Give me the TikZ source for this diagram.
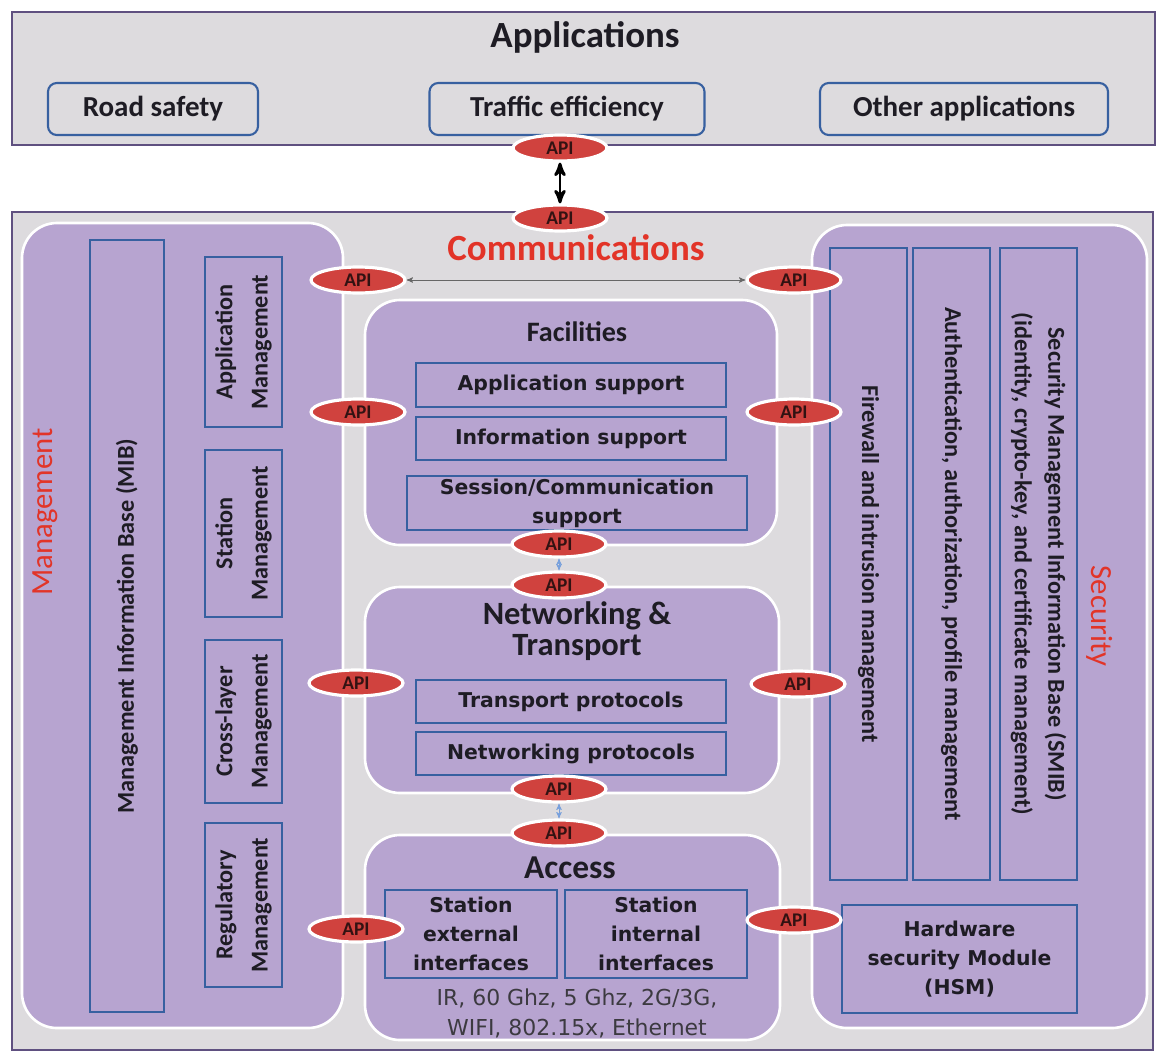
\documentclass[tikz,border=0pt]{standalone}
\usepackage{fontspec}
\setmainfont{Carlito}
\newfontfamily\widefont{DejaVu Sans}
\usetikzlibrary{shapes.geometric, arrows}

\definecolor{frame}{RGB}{95,80,128}
\definecolor{bggray}{RGB}{221,219,222}
\definecolor{lav}{RGB}{183,164,208}
\definecolor{boxblue}{RGB}{55,96,160}
\definecolor{apired}{RGB}{208,66,62}
\definecolor{apitext}{RGB}{50,18,18}
\definecolor{titlered}{RGB}{226,52,40}
\definecolor{darktext}{RGB}{30,28,36}
\definecolor{phytext}{RGB}{60,58,64}
\definecolor{linkblue}{RGB}{120,160,220}

\begin{document}
\begin{tikzpicture}[x=0.02cm, y=-0.02cm, >=stealth', semithick,
     sz/.style 2 args={minimum width=#1*0.02cm, minimum height=#2*0.02cm, inner sep=0pt},
     layer/.style={draw=frame, line width=1.6pt, fill=bggray},
     panel/.style={draw=white, line width=1.5pt, fill=lav, rounded corners=0.7cm},
     appbox/.style={draw=boxblue, line width=1.2pt, fill=bggray, rounded corners=5pt, text=darktext,
       font=\bfseries\fontsize{16.5}{19}\selectfont},
     blk/.style={draw=boxblue, line width=1.1pt, fill=lav, align=center, text=darktext,
       font=\bfseries\fontsize{13.8}{20}\selectfont},
     wideblk/.style={blk, font=\widefont\bfseries\fontsize{11.6}{16.5}\selectfont},
     ttl/.style={align=center, text=darktext, font=\bfseries\fontsize{16}{18}\selectfont},
     redttl/.style={text=titlered, font=\fontsize{17.5}{20}\selectfont},
     api/.style={ellipse, fill=apired, draw=white, line width=1.8pt, sz={94}{26}, text=apitext,
       font=\bfseries\fontsize{11}{12}\selectfont},
  ]
  \path[use as bounding box] (0,0) rectangle (1158,1055);

  % applications layer
  \node[layer, sz={1143}{133}] (apps) at (583.5,78.5) {};
  \node[ttl, font=\bfseries\fontsize{21}{24}\selectfont] (appsT) at (585,37) {Applications};
  \node[appbox, sz={210}{52}] (road) at (153,109) {Road safety};
  \node[appbox, sz={275}{52}] (traffic) at (567,109) {Traffic efficiency};
  \node[appbox, sz={288}{52}] (other) at (964,109) {Other applications};

  % communications layer and side panels
  \node[layer, sz={1141}{838}] (comm) at (582.5,631) {};
  \node[panel, sz={321}{805}] (mgmt) at (182.5,625.5) {};
  \node[panel, sz={335}{803}] (sec) at (979.5,626.5) {};
  \node[panel, sz={412}{245}] (fac) at (571,422.5) {};
  \node[panel, sz={414}{206}] (net) at (572,690) {};
  \node[panel, sz={415}{205}] (acc) at (572.5,937.5) {};

  \node[redttl, font=\bfseries\fontsize{21}{23}\selectfont] (commT) at (576,248) {Communications};
  \node[redttl, rotate=90] (mgmtT) at (45,512) {Management};
  \node[redttl, rotate=-90] (secT) at (1100,616) {Security};

  % management
  \node[blk, rotate=90, sz={772}{74}] (mib) at (127,626) {Management Information Base (MIB)};
  \node[blk, rotate=90, sz={170}{77}] (appM) at (243.5,342) {Application\\Management};
  \node[blk, rotate=90, sz={167}{77}] (staM) at (243.5,533.5) {Station\\Management};
  \node[blk, rotate=90, sz={163}{77}] (crossM) at (243.5,721.5) {Cross-layer\\Management};
  \node[blk, rotate=90, sz={164}{77}] (regM) at (243.5,905) {Regulatory\\Management};

  % security
  \node[blk, rotate=-90, sz={632}{77}] (fw) at (868.5,564) {Firewall and intrusion management};
  \node[blk, rotate=-90, sz={632}{77}] (auth) at (951.5,564) {Authentication, authorization, profile management};
  \node[blk, rotate=-90, sz={632}{77}, font=\bfseries\fontsize{13.8}{19}\selectfont] (smib) at (1038.5,564)
    {Security Management Information Base (SMIB)\\(identity, crypto-key, and certificate management)};
  \node[wideblk, sz={235}{108}] (hsm) at (959.5,959) {Hardware\\security Module\\(HSM)};

  % facilities
  \node[ttl] (facT) at (577,332) {Facilities};
  \node[wideblk, sz={310}{44}] (appS) at (571,385) {Application support};
  \node[wideblk, sz={310}{43}] (infoS) at (571,438.5) {Information support};
  \node[wideblk, sz={340}{54}] (sessS) at (577,503) {Session/Communication\\support};

  % networking and transport
  \node[ttl, font=\bfseries\fontsize{18.5}{18}\selectfont] (netT) at (577,631) {Networking \&\\Transport};
  \node[wideblk, sz={310}{43}] (trP) at (571,701.5) {Transport protocols};
  \node[wideblk, sz={310}{43}] (nwP) at (571,753.5) {Networking protocols};

  % access
  \node[ttl, font=\bfseries\fontsize{19}{21}\selectfont] (accT) at (570,868) {Access};
  \node[wideblk, sz={172}{88}] (extI) at (471,934) {Station\\external\\interfaces};
  \node[wideblk, sz={182}{88}] (intI) at (656,934) {Station\\internal\\interfaces};
  \node[align=center, text=phytext, font=\widefont\fontsize{12.5}{17}\selectfont] (phy) at (577,1013)
    {IR, 60 Ghz, 5 Ghz, 2G/3G,\\WIFI, 802.15x, Ethernet};

  % API
  \node[api] (apiA) at (560,148) {API};
  \node[api] (apiC) at (560,218) {API};
  \node[api] (mApi1) at (358,280) {API};
  \node[api] (mApi2) at (358,412) {API};
  \node[api] (mApi3) at (356,683) {API};
  \node[api] (mApi4) at (356,929) {API};
  \node[api] (sApi1) at (794,280) {API};
  \node[api] (sApi2) at (794,412) {API};
  \node[api] (sApi3) at (798,684) {API};
  \node[api] (sApi4) at (794,920) {API};
  \node[api] (fApi) at (559,544) {API};
  \node[api] (nApiN) at (559,585) {API};
  \node[api] (nApiS) at (559,789) {API};
  \node[api] (aApi) at (559,833) {API};

  \draw[<->, line width=1.6pt] (apiA) -- (apiC);
  \draw[<->, gray!80!black, thin] (mApi1) -- (sApi1);
  \draw[<->, linkblue, thin] (fApi) -- (nApiN);
  \draw[<->, linkblue, thin] (nApiS) -- (aApi);
\end{tikzpicture}
\end{document}
